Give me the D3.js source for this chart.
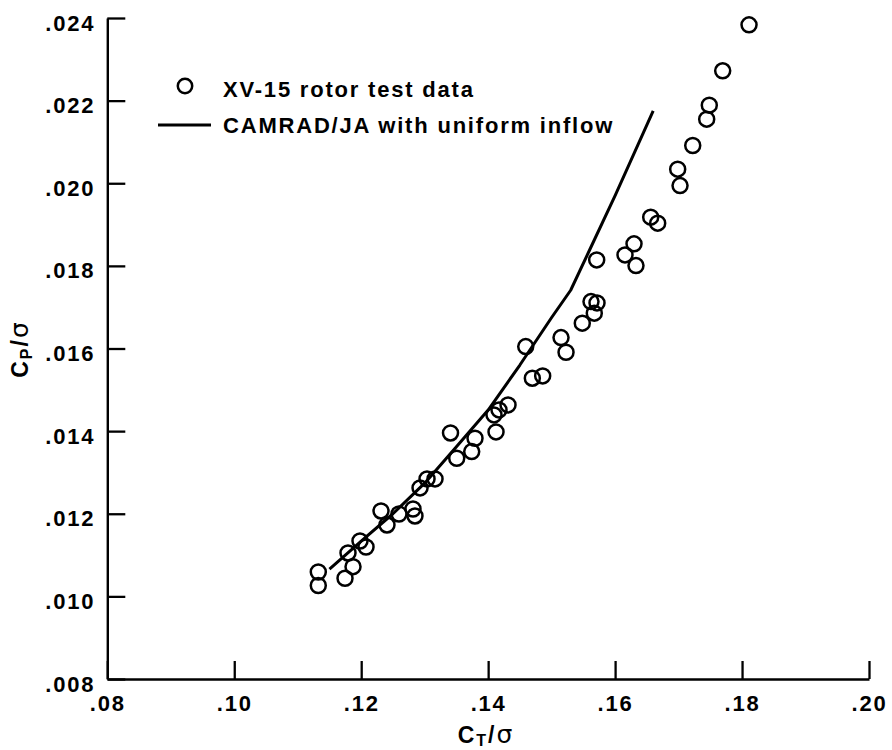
<!DOCTYPE html>
<html>
<head>
<meta charset="utf-8">
<script src="https://cdn.jsdelivr.net/npm/d3@7"></script>
<style>
  html, body { margin: 0; padding: 0; background: #fff; }
  svg { display: block; }
  text { font-family: "Liberation Sans", Arial, Helvetica, sans-serif; font-weight: bold; fill: #000; }
</style>
</head>
<body>
<script>
// XV-15 rotor hover performance: measured points
const testCT = [
  0.11324, 0.11324, 0.11745, 0.11871, 0.11792, 0.11981, 0.12076,
  0.12312, 0.12406, 0.12595, 0.12816, 0.12847,
  0.12927, 0.13037, 0.13163,
  0.13407, 0.13505, 0.13741, 0.13793,
  0.14092, 0.14171, 0.14313, 0.14124,
  0.14592, 0.14696, 0.14859,
  0.15148, 0.15227,
  0.15483, 0.15672, 0.15620, 0.15715, 0.15710,
  0.16156, 0.16298, 0.16329,
  0.16561, 0.16671,
  0.16986, 0.17023, 0.17223,
  0.17443, 0.17484, 0.17695, 0.18110
];
const testCP = [
  0.010591, 0.010264, 0.010438, 0.010719, 0.011051, 0.011341, 0.011196,
  0.012068, 0.011729, 0.011995, 0.012116, 0.011947,
  0.012625, 0.012843, 0.012843,
  0.013956, 0.013344, 0.013504, 0.013828,
  0.014392, 0.014513, 0.014634, 0.013981,
  0.016046, 0.015281, 0.015337,
  0.016264, 0.015910,
  0.016613, 0.016855, 0.017136, 0.017104, 0.018145,
  0.018266, 0.018533, 0.018007,
  0.019179, 0.019034,
  0.020341, 0.019944, 0.020913,
  0.021552, 0.021891, 0.022722, 0.023835
];

// CAMRAD/JA prediction, uniform inflow
const camradCT = [0.115, 0.120, 0.125, 0.130, 0.135, 0.140, 0.145, 0.150, 0.153, 0.156, 0.160, 0.166];
const camradCP = [0.01066, 0.01134, 0.01200, 0.01274, 0.01362, 0.01451, 0.01560, 0.01675, 0.01741, 0.01839, 0.01970, 0.02175];

const xTicks = [0.08, 0.10, 0.12, 0.14, 0.16, 0.18, 0.20];
const xTickLabels = [".08", ".10", ".12", ".14", ".16", ".18", ".20"];
const yTicks = [0.008, 0.010, 0.012, 0.014, 0.016, 0.018, 0.020, 0.022, 0.024];
const yTickLabels = [".008", ".010", ".012", ".014", ".016", ".018", ".020", ".022", ".024"];

const legendLabels = ["XV-15 rotor test data", "CAMRAD/JA with uniform inflow"];

const W = 892, H = 750;
const plot = { left: 107.3, right: 869, top: 18, bottom: 679 };
const fontSize = 22, spacing = "1.8px";

const svg = d3.select("body").append("svg")
  .attr("width", W).attr("height", H)
  .attr("viewBox", `0 0 ${W} ${H}`);

const x = d3.scaleLinear().domain([0.08, 0.20]).range([plot.left, plot.right]);
const y = d3.scaleLinear().domain([0.008, 0.024]).range([plot.bottom, plot.top]);

// Axes with inward ticks
const xAxis = d3.axisBottom(x)
  .tickValues(xTicks)
  .tickFormat((d, i) => xTickLabels[i])
  .tickSizeInner(-18).tickSizeOuter(0).tickPadding(16);

const yAxis = d3.axisLeft(y)
  .tickValues(yTicks)
  .tickFormat((d, i) => yTickLabels[i])
  .tickSizeInner(-18).tickSizeOuter(0).tickPadding(12);

const gx = svg.append("g").attr("transform", `translate(0,${plot.bottom})`).call(xAxis);
const gy = svg.append("g").attr("transform", `translate(${plot.left},0)`).call(yAxis);

[gx, gy].forEach(g => {
  g.select(".domain").attr("stroke", "#000").attr("stroke-width", 2.4);
  g.selectAll(".tick line").attr("stroke", "#000").attr("stroke-width", 2.3);
  g.selectAll(".tick text")
    .attr("font-family", "'Liberation Sans', Arial, sans-serif")
    .attr("font-weight", "bold")
    .attr("font-size", fontSize)
    .attr("letter-spacing", spacing)
    .attr("fill", "#000");
});
gy.selectAll(".tick text").attr("dy", "0.55em");

// Prediction line
const line = d3.line().x((d, i) => x(camradCT[i])).y(d => y(d));
svg.append("path")
  .datum(camradCP)
  .attr("d", line)
  .attr("fill", "none")
  .attr("stroke", "#000")
  .attr("stroke-width", 3)
  .attr("stroke-linejoin", "round");

// Test data circles
svg.append("g").selectAll("circle")
  .data(testCT)
  .join("circle")
  .attr("cx", d => x(d))
  .attr("cy", (d, i) => y(testCP[i]))
  .attr("r", 7.5)
  .attr("fill", "none")
  .attr("stroke", "#000")
  .attr("stroke-width", 2.5);

// Legend
const lg = svg.append("g");
lg.append("circle").attr("cx", 185).attr("cy", 86).attr("r", 7.2)
  .attr("fill", "none").attr("stroke", "#000").attr("stroke-width", 2.5);
lg.append("line").attr("x1", 158).attr("x2", 211).attr("y1", 125).attr("y2", 125)
  .attr("stroke", "#000").attr("stroke-width", 3);
lg.selectAll("text")
  .data(legendLabels)
  .join("text")
  .attr("x", 223)
  .attr("y", (d, i) => i === 0 ? 97 : 133)
  .attr("font-size", fontSize)
  .attr("letter-spacing", spacing)
  .text(d => d);

// Axis titles
const xt = svg.append("text")
  .attr("x", 486).attr("y", 743)
  .attr("text-anchor", "middle")
  .attr("font-size", 23)
  .attr("letter-spacing", "2px");
xt.append("tspan").text("C");
xt.append("tspan").attr("font-size", 16).attr("dy", 3).text("T");
xt.append("tspan").attr("dy", -3).text("/");
xt.append("tspan").attr("font-weight", "normal").attr("font-size", 25).attr("font-family", "'DejaVu Sans', sans-serif").text("σ");

const yt = svg.append("text")
  .attr("transform", "translate(28,349) rotate(-90)")
  .attr("text-anchor", "middle")
  .attr("font-size", 23)
  .attr("letter-spacing", "2px");
yt.append("tspan").text("C");
yt.append("tspan").attr("font-size", 16).attr("dy", 4).text("P");
yt.append("tspan").attr("dy", -4).text("/");
yt.append("tspan").attr("font-weight", "normal").attr("font-size", 25).attr("font-family", "'DejaVu Sans', sans-serif").text("σ");
</script>
</body>
</html>
